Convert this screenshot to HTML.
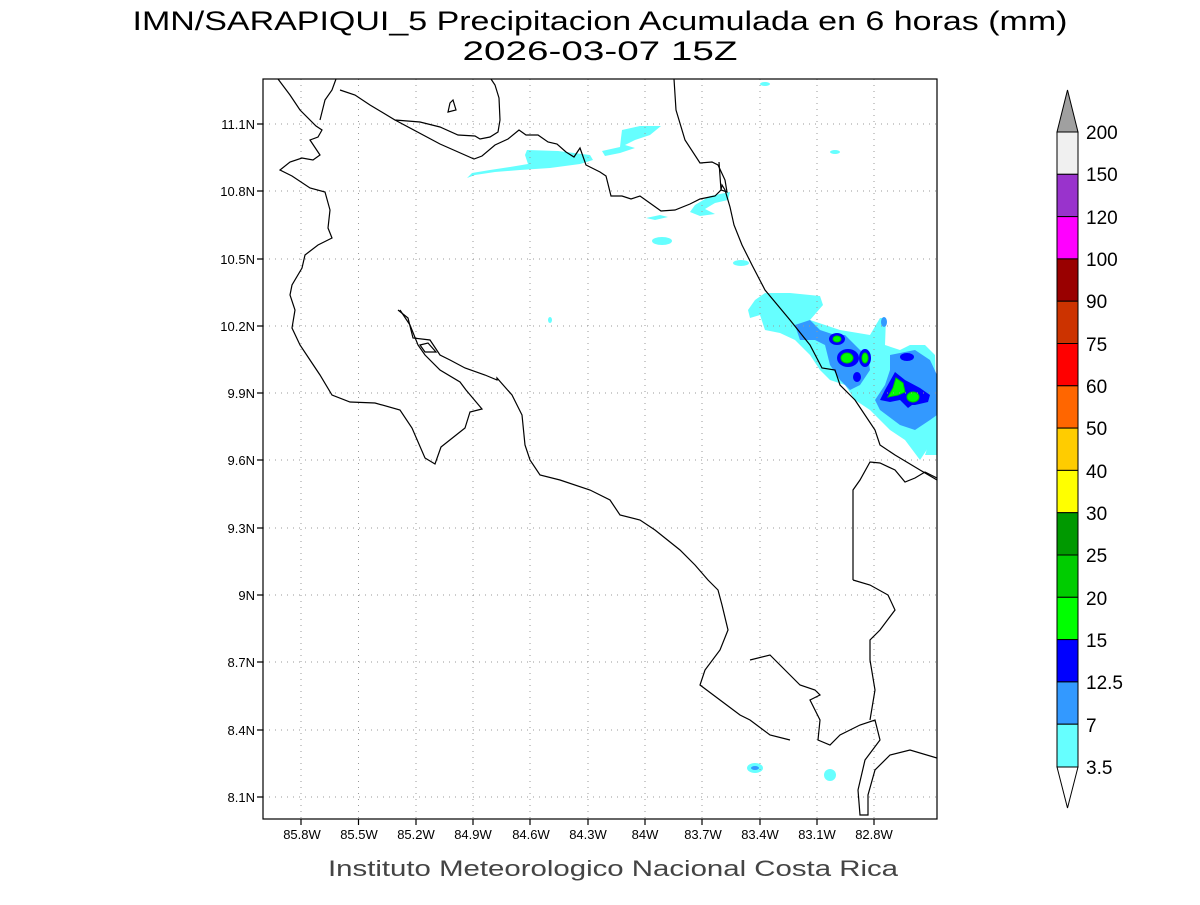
<!DOCTYPE html>
<html><head><meta charset="utf-8"><style>
body{margin:0;background:#fff;width:1200px;height:900px;overflow:hidden}
svg text{font-family:"Liberation Sans",sans-serif}
</style></head><body>
<svg width="1200" height="900" viewBox="0 0 1200 900" xmlns="http://www.w3.org/2000/svg">
<text x="600" y="30" font-size="27" text-anchor="middle" fill="#000" textLength="935" lengthAdjust="spacingAndGlyphs">IMN/SARAPIQUI_5 Precipitacion Acumulada en 6 horas (mm)</text>
<text x="600" y="60" font-size="27" text-anchor="middle" fill="#000" textLength="275" lengthAdjust="spacingAndGlyphs">2026-03-07 15Z</text>
<defs><clipPath id="c"><rect x="263" y="79" width="674" height="740"/></clipPath></defs>
<g clip-path="url(#c)">
<g fill="#66ffff">
<path d="M527,150 L558,151 L590,155 L593,160 L580,164 L550,168 L520,170 L495,172 L475,175 L467,178 L472,173 L490,170 L510,167 L528,164 L525,155Z"/>
<path d="M622,130 L640,126 L661,126 L650,135 L635,140 L625,145 L635,148 L620,153 L605,156 L602,151 L620,147 L621,138Z"/>
<path d="M695,205 L710,196 L730,192 L728,200 L715,203 L705,209 L715,214 L700,216 L690,212Z"/>
<path d="M646,218 L660,215 L668,217 L655,220Z"/>
<ellipse cx="662" cy="241" rx="10" ry="4"/>
<ellipse cx="741" cy="263" rx="8" ry="3"/>
<ellipse cx="765" cy="84" rx="5" ry="2"/>
<ellipse cx="835" cy="152" rx="5" ry="2"/>
<ellipse cx="550" cy="320" rx="2" ry="3"/>
<path d="M755,300 L765,293 L790,293 L820,296 L823,305 L810,320 L825,325 L840,330 L870,335 L880,318 L886,318 L885,345 L900,350 L910,345 L925,345 L935,355 L937,430 L930,445 L920,460 L905,440 L890,430 L870,410 L855,400 L845,385 L830,380 L820,370 L810,355 L795,340 L780,333 L765,330 L760,315 L750,318 L748,310Z"/>
<path d="M937,425 L930,440 L925,455 L937,455Z"/>
<ellipse cx="755" cy="768" rx="8" ry="5"/>
<ellipse cx="830" cy="775" rx="6" ry="6"/>
</g>
<g fill="#3399ff">
<path d="M795,325 L810,320 L820,330 L835,335 L845,335 L860,350 L868,355 L870,370 L860,385 L850,390 L840,380 L830,365 L825,345 L815,340 L800,340Z"/>
<path d="M890,355 L915,350 L930,360 L937,375 L937,415 L930,420 L915,430 L900,425 L880,410 L875,400 L885,385 L890,370Z"/>
<ellipse cx="884" cy="322" rx="3" ry="5"/>
<ellipse cx="755" cy="768" rx="4" ry="2"/>
</g>
<g fill="#0000ff">
<ellipse cx="837" cy="339" rx="8" ry="6"/>
<ellipse cx="848" cy="358" rx="11" ry="9"/>
<ellipse cx="865" cy="358" rx="6" ry="9"/>
<ellipse cx="857" cy="377" rx="4" ry="5"/>
<ellipse cx="907" cy="357" rx="7" ry="4"/>
<path d="M895,372 L905,380 L920,388 L930,395 L928,402 L915,405 L912,405 L908,408 L900,400 L890,402 L880,400 L885,390Z"/>
</g>
<g fill="#00ff00" stroke="#00cc00" stroke-width="1">
<ellipse cx="837" cy="339" rx="4" ry="3"/>
<ellipse cx="847" cy="358" rx="6" ry="5"/>
<ellipse cx="865" cy="358" rx="3" ry="5"/>
<path d="M896,378 L903,383 L905,392 L898,395 L888,397 L893,388Z"/>
<ellipse cx="913" cy="397" rx="6" ry="5"/>
</g>
<g stroke="#999" stroke-width="1" stroke-dasharray="1,5">
<path d="M301,79V819M358.5,79V819M416,79V819M473,79V819M530,79V819M588,79V819M645,79V819M702,79V819M760,79V819M817,79V819M874,79V819"/>
<path d="M263,124H937M263,191H937M263,259H937M263,326H937M263,393H937M263,460H937M263,528H937M263,595H937M263,662H937M263,730H937M263,797H937"/>
</g>
<g fill="none" stroke="#000" stroke-width="1.2">
<path d="M278,79 L290,95 L300,110 L316,126 L322,130 L318,137 L310,140 L320,155 L313,160 L302,158 L290,162 L280,170 L292,176 L310,188 L325,192 L330,210 L328,228 L332,238 L318,245 L305,255 L302,268 L292,285 L290,295 L295,310 L292,328 L300,345 L310,360 L320,375 L332,395 L350,402 L375,403 L400,410 L412,428 L425,458 L435,464 L441,447 L465,428 L470,412 L482,409 L466,390 L460,382 L440,370 L425,355 L418,345 L410,325 L400,310"/>
<path d="M398,310 L408,318 L413,338 L430,340 L440,355 L450,360 L465,368 L485,375 L497,380 L497,378 L512,395 L522,415 L525,445 L530,460 L540,475 L560,480 L590,490 L610,500 L620,515 L640,520 L655,530 L680,550 L695,565 L708,580 L718,590 L722,605 L728,630 L720,650 L705,670 L700,685 L720,700 L740,715 L750,720 L770,735 L790,740"/>
<path d="M750,660 L770,655 L790,675 L800,685 L815,690 L820,695 L810,700 L820,720 L818,740 L830,745 L840,735 L860,725 L875,720 L880,740 L865,760 L858,790 L860,815 L868,815 L868,795 L875,770 L890,755 L910,750 L937,758"/>
<path d="M420,345 L428,343 L436,352 L425,352Z"/>
<path d="M450,103 L453,100 L456,110 L448,112Z"/>
<path d="M320,120 L325,100 L332,90 L336,79"/>
<path d="M491,79 L495,85 L499,98 L500,120 L498,132 L490,137 L480,139 L475,136 L458,135 L440,127 L420,122 L395,120 L370,105 L355,95 L340,90"/>
<path d="M395,120 L440,144 L474,159 L482,156 L495,145 L508,139 L519,130 L526,135 L538,135 L548,142 L557,144 L566,152 L574,157 L580,148 L586,165 L600,172 L606,176 L611,196 L622,196 L631,199 L640,196 L647,201 L661,211 L675,210 L690,204 L700,199 L715,196 L721,190 L719,162"/>
<path d="M674,79 L676,110 L685,140 L700,163 L712,162 L718,165 L725,180 L727,192 L721,190 L722,185 L725,190 L730,207 L734,225 L742,245 L752,265 L765,290 L790,320 L810,345 L822,368 L835,370 L840,385 L855,400 L875,430 L880,445 L895,455 L920,470 L937,480"/>
<path d="M853,580 L853,490 L860,480 L870,462 L880,463 L895,470 L905,482 L915,478 L925,472 L937,478"/>
<path d="M853,580 L870,585 L888,595 L895,610 L880,630 L870,640 L870,660 L875,690 L870,720"/>
</g>
</g>
<rect x="263" y="79" width="674" height="740" fill="none" stroke="#000" stroke-width="1.2"/>
<g stroke="#000" stroke-width="1.2">
<path d="M301,819v6M358.5,819v6M416,819v6M473,819v6M530,819v6M588,819v6M645,819v6M702,819v6M760,819v6M817,819v6M874,819v6"/>
<path d="M263,124h-6M263,191h-6M263,259h-6M263,326h-6M263,393h-6M263,460h-6M263,528h-6M263,595h-6M263,662h-6M263,730h-6M263,797h-6"/>
</g>
<g font-size="13" fill="#000" text-anchor="end">
<text x="255" y="129">11.1N</text><text x="255" y="196">10.8N</text><text x="255" y="264">10.5N</text><text x="255" y="331">10.2N</text><text x="255" y="398">9.9N</text><text x="255" y="465">9.6N</text><text x="255" y="533">9.3N</text><text x="255" y="600">9N</text><text x="255" y="667">8.7N</text><text x="255" y="735">8.4N</text><text x="255" y="802">8.1N</text>
</g>
<g font-size="13" fill="#000" text-anchor="middle">
<text x="302" y="839">85.8W</text><text x="359" y="839">85.5W</text><text x="416" y="839">85.2W</text><text x="473" y="839">84.9W</text><text x="531" y="839">84.6W</text><text x="588" y="839">84.3W</text><text x="645" y="839">84W</text><text x="703" y="839">83.7W</text><text x="760" y="839">83.4W</text><text x="817" y="839">83.1W</text><text x="874" y="839">82.8W</text>
</g>
<text x="613" y="876" font-size="22" text-anchor="middle" fill="#444" textLength="570" lengthAdjust="spacingAndGlyphs">Instituto Meteorologico Nacional Costa Rica</text>
<g stroke="#000" stroke-width="1">
<path d="M1057,132 L1067.5,90 L1078,132Z" fill="#a0a0a0"/>
<rect x="1057" y="132" width="21" height="42.3" fill="#f0f0f0"/>
<rect x="1057" y="174.3" width="21" height="42.3" fill="#9933cc"/>
<rect x="1057" y="216.6" width="21" height="42.3" fill="#ff00ff"/>
<rect x="1057" y="258.9" width="21" height="42.3" fill="#990000"/>
<rect x="1057" y="301.2" width="21" height="42.3" fill="#cc3300"/>
<rect x="1057" y="343.5" width="21" height="42.3" fill="#ff0000"/>
<rect x="1057" y="385.8" width="21" height="42.3" fill="#ff6600"/>
<rect x="1057" y="428.1" width="21" height="42.3" fill="#ffcc00"/>
<rect x="1057" y="470.4" width="21" height="42.3" fill="#ffff00"/>
<rect x="1057" y="512.7" width="21" height="42.3" fill="#009900"/>
<rect x="1057" y="555" width="21" height="42.3" fill="#00cc00"/>
<rect x="1057" y="597.3" width="21" height="42.3" fill="#00ff00"/>
<rect x="1057" y="639.6" width="21" height="42.3" fill="#0000ff"/>
<rect x="1057" y="681.9" width="21" height="42.3" fill="#3399ff"/>
<rect x="1057" y="724.2" width="21" height="42.8" fill="#66ffff"/>
<path d="M1057,767 L1067.5,808 L1078,767Z" fill="#fff"/>
</g>
<g font-size="19" fill="#000">
<text x="1086" y="139">200</text><text x="1086" y="181">150</text><text x="1086" y="224">120</text><text x="1086" y="266">100</text><text x="1086" y="308">90</text><text x="1086" y="351">75</text><text x="1086" y="393">60</text><text x="1086" y="435">50</text><text x="1086" y="478">40</text><text x="1086" y="520">30</text><text x="1086" y="562">25</text><text x="1086" y="605">20</text><text x="1086" y="647">15</text><text x="1086" y="689">12.5</text><text x="1086" y="732">7</text><text x="1086" y="774">3.5</text>
</g>
</svg>
</body></html>
